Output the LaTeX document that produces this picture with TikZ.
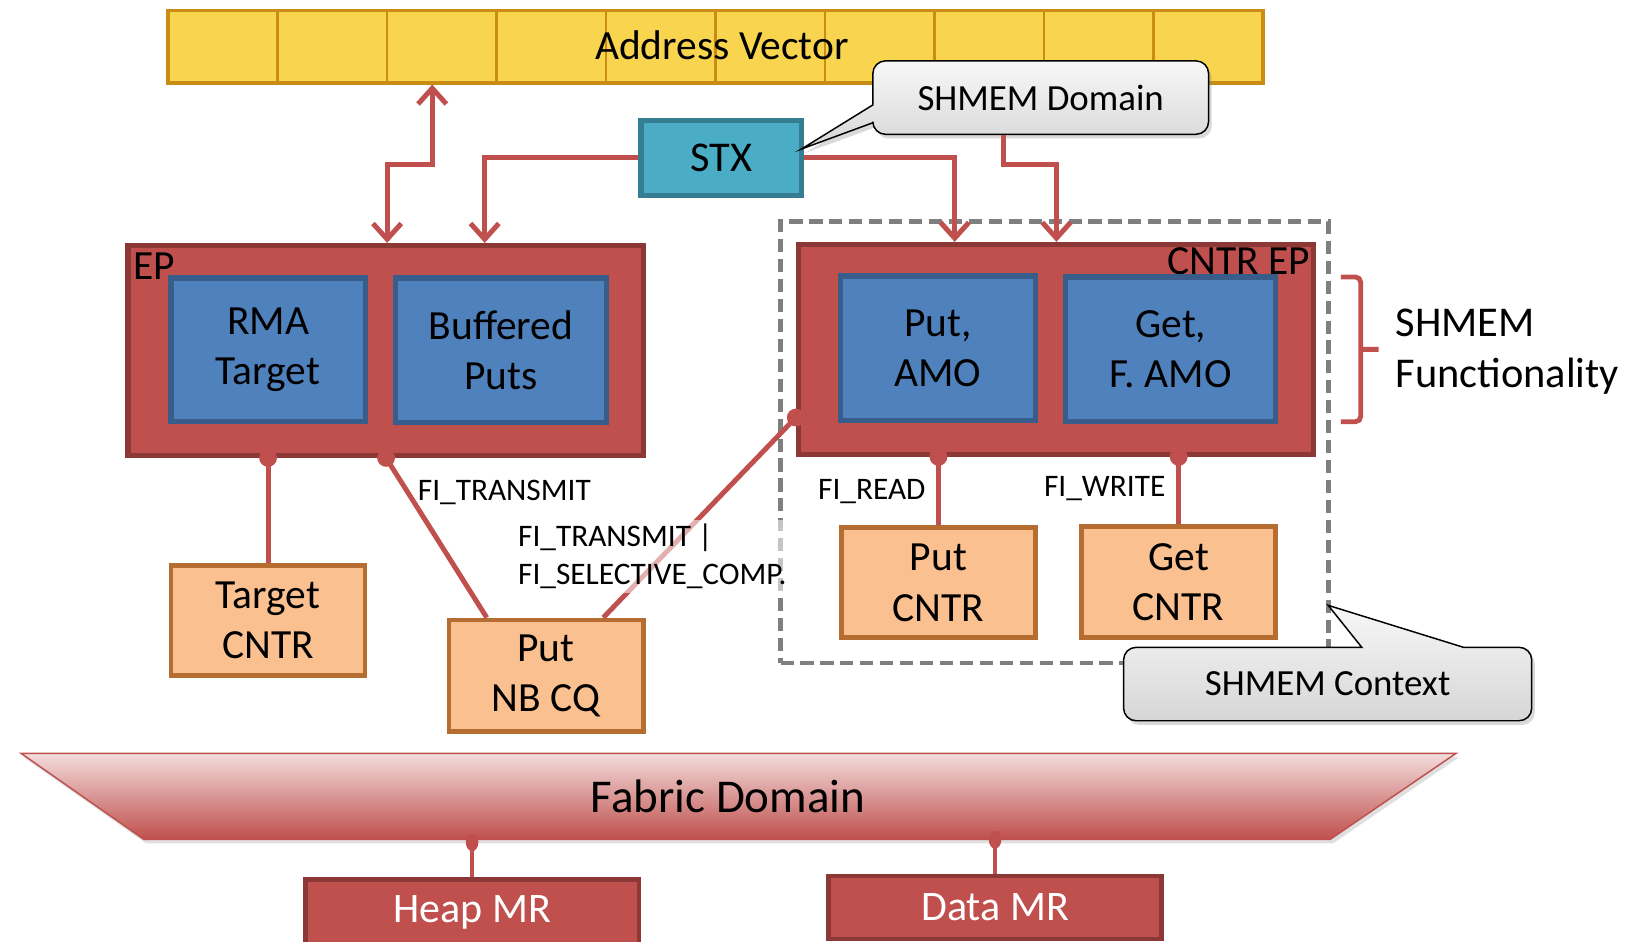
\documentclass[tikz,border=0pt]{standalone}
\usepackage{fontspec}
\setmainfont{Carlito}
\usepackage{tikz}
\usetikzlibrary{
    arrows.meta,
    shadows
}
\definecolor{avyellow}{HTML}{F8D44F}
\definecolor{avborder}{HTML}{C98C14}
\definecolor{stxteal}{HTML}{4BACC6}
\definecolor{stxborder}{HTML}{357D91}
\definecolor{epred}{HTML}{C0504D}
\definecolor{epborder}{HTML}{8C3836}
\definecolor{fnblue}{HTML}{4F81BD}
\definecolor{fnborder}{HTML}{385D8A}
\definecolor{cntrorange}{HTML}{FAC090}
\definecolor{cntrborder}{HTML}{B66D31}
\definecolor{fabrictop}{HTML}{F2DCDB}
\definecolor{ctxgray}{HTML}{7F7F7F}
\newcommand{\boxfont}{\fontsize{22.5}{27.3}\selectfont}
\newcommand{\flagfont}{\fontsize{17}{21}\selectfont}
\newcommand{\calloutfont}{\fontsize{20}{24}\selectfont}

\begin{document}
\begin{tikzpicture}[x=0.2mm, y=-0.2mm,
    epbox/.style={draw=epborder, fill=epred, line width=2.8pt, inner sep=0pt},
    fnbox/.style={draw=fnborder, fill=fnblue, line width=2.8pt, align=center, font=\boxfont, inner sep=0pt},
    cntrbox/.style={draw=cntrborder, fill=cntrorange, line width=2.6pt, align=center, font=\boxfont, inner sep=0pt},
    mrbox/.style={draw=epborder, fill=epred, line width=2.6pt, text=white, font=\fontsize{22.8}{27}\selectfont, inner sep=0pt},
    link/.style={draw=epred, line width=2.7pt},
    linkarrow/.style={link, -{Straight Barb[length=3mm, width=5.4mm]}},
    flag/.style={font=\flagfont, inner sep=0pt},
    calloutbg/.style={draw=black, line width=0.8pt, top color=gray!6, bottom color=gray!32,
        drop shadow={opacity=0.3, shadow xshift=0.6mm, shadow yshift=-0.8mm}}
]
    \useasboundingbox (0,0) rectangle (1568,897);

    % SHMEM context
    \node[draw=ctxgray, line width=2.6pt, dash pattern=on 2.5mm off 1.3mm,
        minimum width=104.4mm, minimum height=84.2mm] (ctx) at (1005,421.5) {};

    % address vector
    \node[draw=avborder, fill=avyellow, line width=1.8pt, minimum width=208.8mm, minimum height=13.8mm] (av) at (682,44.5) {};
    \draw[avborder, line width=1.3pt] (264.4,10) -- (264.4,79) (368.8,10) -- (368.8,79) (473.2,10) -- (473.2,79)
        (577.6,10) -- (577.6,79) (682,10) -- (682,79) (786.4,10) -- (786.4,79)
        (890.8,10) -- (890.8,79) (995.2,10) -- (995.2,79) (1099.6,10) -- (1099.6,79);
    \node[font=\boxfont] (avlabel) at (688,43) {Address Vector};

    % STX and SHMEM domain
    \node[draw=stxborder, fill=stxteal, line width=2.8pt, minimum width=30.6mm, minimum height=14.2mm,
        font=\fontsize{23}{27}\selectfont] (stx) at (687.5,150.5) {STX};
    \path[calloutbg] (992,58) [rounded corners=2.4mm] -- (1152,58) -- (1152,128) -- (832,128)
        [sharp corners] -- (832,117) -- (764,142) -- (832,100) [rounded corners=2.4mm] -- (832,58) -- cycle;
    \node[font=\calloutfont, minimum width=64mm, minimum height=14mm] (shmemdom) at (992,93) {SHMEM Domain};

    % endpoints
    \node[epbox, minimum width=98.2mm, minimum height=40mm] (ep) at (367.5,334) {};
    \node[anchor=west, font=\boxfont, inner sep=0pt] (eplabel) at (127,254) {EP};
    \node[fnbox, minimum width=37mm, minimum height=27.4mm] (rma) at (255.5,333.5) {RMA\\Target};
    \node[fnbox, minimum width=40.2mm, minimum height=27.6mm] (bufputs) at (477.5,334) {Buffered\\Puts};

    \node[epbox, minimum width=98.2mm, minimum height=40mm] (cntrep) at (1006.5,333) {};
    \node[anchor=east, font=\boxfont, inner sep=0pt] (cntreplabel) at (1249,249) {CNTR EP};
    \node[fnbox, minimum width=37.2mm, minimum height=27.6mm] (putamo) at (894,332) {Put,\\AMO};
    \node[fnbox, minimum width=40mm, minimum height=27.6mm] (getamo) at (1116,333) {Get,\\F. AMO};

    % counters and CQ
    \node[cntrbox, minimum width=37mm, minimum height=21mm] (tcntr) at (255.5,591.5) {Target\\CNTR};
    \node[cntrbox, minimum width=37mm, minimum height=21.2mm] (nbcq) at (520.5,644) {Put\\NB CQ};
    \node[cntrbox, minimum width=37mm, minimum height=21mm] (putcntr) at (894.5,555.5) {Put\\CNTR};
    \node[cntrbox, minimum width=37mm, minimum height=21.2mm] (getcntr) at (1123.5,555) {Get\\CNTR};

    % arrows from AV, STX and domain
    \draw[link, {Straight Barb[length=3mm, width=5.4mm]}-{Straight Barb[length=3mm, width=5.4mm]}]
        (412,0 |- av.south) |- (369,157) -- (369,0 |- ep.north);
    \draw[linkarrow] (stx.west) -| (462,0 |- ep.north);
    \draw[linkarrow] (stx.east) -| (910,0 |- cntrep.north);
    \draw[linkarrow] ([xshift=25mm]shmemdom.south west) |- (1007,157) -- (1007,0 |- cntrep.north);

    % bindings
    \draw[link] (tcntr.north |- ep.south) -- (tcntr.north);
    \draw[link] (368,0 |- ep.south) -- (464,0 |- nbcq.north);
    \draw[link] (cntrep.west |- 0,398) -- (575,0 |- nbcq.north);
    \draw[link] (putcntr.north |- cntrep.south) -- (putcntr.north);
    \draw[link] (getcntr.north |- cntrep.south) -- (getcntr.north);
    \fill[epred] (tcntr.north |- ep.south) circle (1.7mm);
    \fill[epred] (368,0 |- ep.south) circle (1.7mm);
    \fill[epred] (cntrep.west |- 0,398) circle (1.7mm);
    \fill[epred] (putcntr.north |- cntrep.south) circle (1.7mm);
    \fill[epred] (getcntr.north |- cntrep.south) circle (1.7mm);

    \node[flag, anchor=west] (fitx) at (398,469) {FI\_TRANSMIT};
    \node[flag, anchor=north west, align=left, fill=white, fill opacity=0.55, text opacity=1,
        inner sep=2pt] (fisel) at (490,495) {FI\_TRANSMIT |\\FI\_SELECTIVE\_COMP.};
    \node[flag] (firead) at (831,469) {FI\_READ};
    \node[flag] (fiwrite) at (1053,466) {FI\_WRITE};

    % functionality bracket
    \draw[epred, line width=2.6pt, rounded corners=1mm] (1278,264) -- (1297,264) -- (1297,402) -- (1278,402)
        (1297,333) -- (1314,333);
    \node[anchor=west, align=left, inner sep=0pt, font=\fontsize{23}{27.9}\selectfont] (shmemfn) at (1330,335) {SHMEM\\Functionality};

    % SHMEM context callout
    \path[calloutbg] (1265,687) [rounded corners=2.4mm] -- (1071,687) -- (1071,617)
        [sharp corners] -- (1298,617) -- (1266,577) -- (1395,617) [rounded corners=2.4mm] -- (1460,617) -- (1460,687) -- cycle;
    \node[font=\calloutfont, minimum width=77.8mm, minimum height=14mm] (shmemctx) at (1265.5,652) {SHMEM Context};

    % fabric domain
    \path[draw=epred, line width=0.8pt, top color=fabrictop, bottom color=epred,
        drop shadow={opacity=0.25, shadow xshift=0.5mm, shadow yshift=-0.8mm}]
        (20,718) -- (1388,718) -- (1268,800) -- (137,800) -- cycle;
    \node[font=\fontsize{25.5}{30}\selectfont, minimum height=16.4mm] (fabric) at (694,759) {Fabric Domain};
    \node[mrbox, minimum width=63.6mm, minimum height=12.8mm] (heap) at (450,870) {Heap MR};
    \node[mrbox, minimum width=63.4mm, minimum height=12mm] (data) at (948.5,865) {Data MR};
    \draw[link, line width=1.8pt] (heap.north |- fabric.south) -- (heap.north);
    \draw[link, line width=1.8pt] (data.north |- fabric.south) -- (data.north);
    \fill[epred] ([yshift=-0.5mm]heap.north |- fabric.south) ellipse (1.2mm and 1.7mm);
    \fill[epred] (data.north |- fabric.south) ellipse (1.2mm and 1.7mm);
\end{tikzpicture}
\end{document}
